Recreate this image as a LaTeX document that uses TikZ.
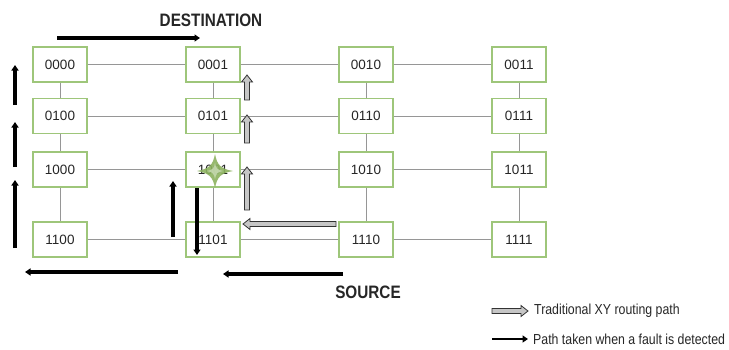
\documentclass[tikz,border=0pt]{standalone}
\usepackage{fontspec}
\setmainfont{Liberation Sans}
\newfontfamily\narrowsans[FakeStretch=0.85]{Liberation Sans}
\usetikzlibrary{arrows.meta}
\definecolor{boxgreen}{RGB}{158,198,122}
\definecolor{stargreen}{RGB}{140,178,95}
\definecolor{linkgray}{RGB}{150,150,150}
\tikzset{
  blockarrow/.pic={
    \filldraw[fill=gray!45, draw=black!80, line width=0.8pt]
      (0,-2.5) -- (#1-7,-2.5) -- (#1-7,-5.5) -- (#1,0) -- (#1-7,5.5) -- (#1-7,2.5) -- (0,2.5) -- cycle;
  }
}
\begin{document}
\begin{tikzpicture}[x=1pt,y=-1pt,
  router/.style={draw=boxgreen, line width=1.1pt, fill=white, minimum width=54pt, minimum height=35pt,
    inner sep=0pt, text=black!85, font=\fontsize{13.5}{14}\selectfont},
  link/.style={draw=linkgray, line width=1pt},
  faultarrow/.style={draw=black, line width=3.2pt, -{Triangle[length=5.5pt,width=7pt]}},
  title/.style={font=\narrowsans\bfseries\fontsize{18}{18}\selectfont, text=black!85},
  legendtext/.style={anchor=west, inner sep=0pt, font=\narrowsans\fontsize{14.5}{15}\selectfont, text=black!85}
]
\useasboundingbox (0,0) rectangle (729,349);

% routers
\node[router] (n0000) at (60,64.5) {0000};
\node[router] (n0001) at (213,64.5) {0001};
\node[router] (n0010) at (366,64.5) {0010};
\node[router] (n0011) at (519,64.5) {0011};
\node[router] (n0100) at (60,116) {0100};
\node[router] (n0101) at (213,116) {0101};
\node[router] (n0110) at (366,116) {0110};
\node[router] (n0111) at (519,116) {0111};
\node[router] (n1000) at (60,169.5) {1000};
\node[router] (n1001) at (213,169.5) {1001};
\node[router] (n1010) at (366,169.5) {1010};
\node[router] (n1011) at (519,169.5) {1011};
\node[router] (n1100) at (60,239.5) {1100};
\node[router] (n1101) at (213,239.5) {1101};
\node[router] (n1110) at (366,239.5) {1110};
\node[router] (n1111) at (519,239.5) {1111};

% links
\foreach \r in {00,01,10,11}{
  \draw[link] (n\r00) -- (n\r01);
  \draw[link] (n\r01) -- (n\r10);
  \draw[link] (n\r10) -- (n\r11);
}
\foreach \c in {00,01,10,11}{
  \draw[link] (n00\c) -- (n01\c);
  \draw[link] (n01\c) -- (n10\c);
  \draw[link] (n10\c) -- (n11\c);
}

% fault star on 1001
\begin{scope}[shift={(215,171)}]
  \fill[stargreen, opacity=0.9] (-18,0) .. controls (-6,-2) and (-2,-6) .. (0,-17)
     .. controls (2,-6) and (6,-2) .. (18,0)
     .. controls (6,2) and (2,6) .. (0,17)
     .. controls (-2,6) and (-6,2) .. (-18,0) -- cycle;
  \fill[stargreen!45!white, opacity=0.8] (-8,0) .. controls (-2.5,-1) and (-1,-2.5) .. (0,-8)
     .. controls (1,-2.5) and (2.5,-1) .. (8,0)
     .. controls (2.5,1) and (1,2.5) .. (0,8)
     .. controls (-1,2.5) and (-2.5,1) .. (-8,0) -- cycle;
\end{scope}

% labels
\node[title] (dest) at (211,20) {DESTINATION};
\node[title] (src) at (368,292) {SOURCE};

% fault-detected path (black)
\coordinate (fa1) at (57,38);   \coordinate (fb1) at (200,38);
\coordinate (fa2) at (15,105);  \coordinate (fb2) at (15,65);
\coordinate (fa3) at (15,167);  \coordinate (fb3) at (15,122);
\coordinate (fa4) at (15,248);  \coordinate (fb4) at (15,180);
\coordinate (fa5) at (173,237); \coordinate (fb5) at (173,181);
\coordinate (fa6) at (197,188); \coordinate (fb6) at (197,255);
\coordinate (fa7) at (178,272); \coordinate (fb7) at (25,272);
\coordinate (fa8) at (343,274); \coordinate (fb8) at (223,274);
\draw[faultarrow, line width=3.8pt] (fa1) -- (fb1);
\foreach \i in {2,...,8}{ \draw[faultarrow] (fa\i) -- (fb\i); }

% traditional XY path (gray block arrows)
\coordinate (g1) at (247,100);
\coordinate (g2) at (247,143);
\coordinate (g3) at (247,210);
\coordinate (g4) at (336,224);
\pic[rotate=90] at (g1) {blockarrow=25};
\pic[rotate=90] at (g2) {blockarrow=28};
\pic[rotate=90] at (g3) {blockarrow=43};
\pic[rotate=180] at (g4) {blockarrow=93};

% legend
\coordinate (lg) at (492,311);
\pic at (lg) {blockarrow=36};
\node[legendtext] (lt1) at (534,311) {Traditional XY routing path};
\coordinate (lba) at (492,339); \coordinate (lbb) at (528,339);
\draw[faultarrow, line width=2.6pt] (lba) -- (lbb);
\node[legendtext] (lt2) at (533,339) {Path taken when a fault is detected};
\end{tikzpicture}
\end{document}
